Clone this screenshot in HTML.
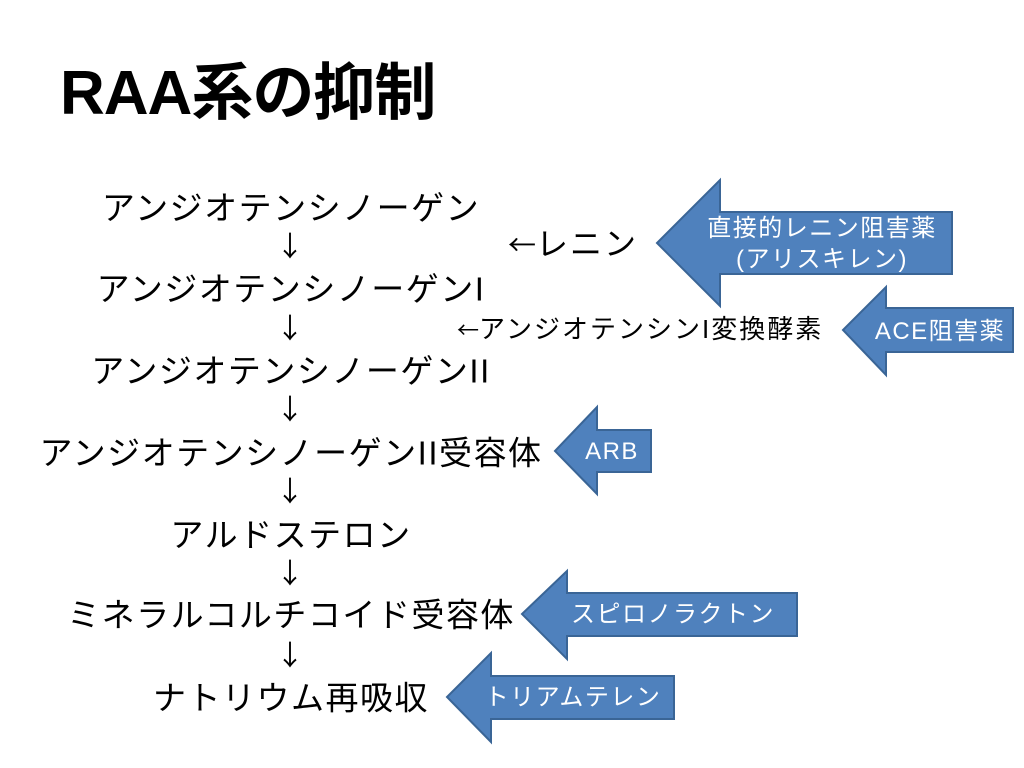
<!DOCTYPE html>
<html><head><meta charset="utf-8"><style>
html,body{margin:0;padding:0;background:#fff;}
body{width:1024px;height:768px;position:relative;overflow:hidden;font-family:"Liberation Sans","Noto Sans CJK JP",sans-serif;color:#000;}
.t{position:absolute;white-space:nowrap;line-height:1;}
.c{transform:translate(-50%,-50%);left:291px;font-size:33px;letter-spacing:1.5px;}
.a{font-family:"Noto Sans CJK JP",sans-serif;letter-spacing:0;font-size:28px;}
.title{left:60px;top:63px;font-size:62px;font-weight:bold;letter-spacing:-1px;}
svg{position:absolute;left:0;top:0;}
.w{fill:#fff;font-family:"Liberation Sans","Noto Sans CJK JP",sans-serif;font-size:24px;letter-spacing:1.5px;}
</style></head><body>
<div class="t title">RAA系の抑制</div>
<div class="t c" style="top:208px">アンジオテンシノーゲン</div>
<div class="t c a" style="top:245px;left:290px">↓</div>
<div class="t c" style="top:289px">アンジオテンシノーゲンI</div>
<div class="t c a" style="top:327px;left:290px">↓</div>
<div class="t c" style="top:371px">アンジオテンシノーゲンII</div>
<div class="t c a" style="top:408px;left:290px">↓</div>
<div class="t c" style="top:453px">アンジオテンシノーゲンII受容体</div>
<div class="t c a" style="top:490px;left:290px">↓</div>
<div class="t c" style="top:535px">アルドステロン</div>
<div class="t c a" style="top:572px;left:290px">↓</div>
<div class="t c" style="top:615px">ミネラルコルチコイド受容体</div>
<div class="t c a" style="top:654px;left:290px">↓</div>
<div class="t c" style="top:698px">ナトリウム再吸収</div>
<div class="t" style="left:508px;top:228px;font-size:32px;letter-spacing:2px"><span class="a">←</span>レニン</div>
<div class="t" style="left:457px;top:316px;font-size:26px;letter-spacing:2px"><span class="a" style="font-size:22px">←</span>アンジオテンシンI変換酵素</div>
<svg width="1024" height="768">
<g fill="#4f81bd" stroke="#3a6596" stroke-width="2">
<polygon points="657,243 720,180 720,212 952,212 952,274 720,274 720,306"/>
<polygon points="843,330 886,287 886,308 1013,308 1013,352 886,352 886,375"/>
<polygon points="555,451 597,407 597,430 651,430 651,472 597,472 597,494"/>
<polygon points="522,614 567,571 567,593 797,593 797,636 567,636 567,659"/>
<polygon points="447,697 491,653 491,676 674,676 674,719 491,719 491,742"/>
</g>
<text class="w" x="822" y="236" text-anchor="middle">直接的レニン阻害薬</text>
<text class="w" x="822" y="267" text-anchor="middle">(アリスキレン)</text>
<text class="w" x="940" y="339" text-anchor="middle">ACE阻害薬</text>
<text class="w" x="612" y="459" text-anchor="middle">ARB</text>
<text class="w" x="673" y="622" text-anchor="middle">スピロノラクトン</text>
<text class="w" x="573" y="705" text-anchor="middle">トリアムテレン</text>
</svg>
</body></html>
